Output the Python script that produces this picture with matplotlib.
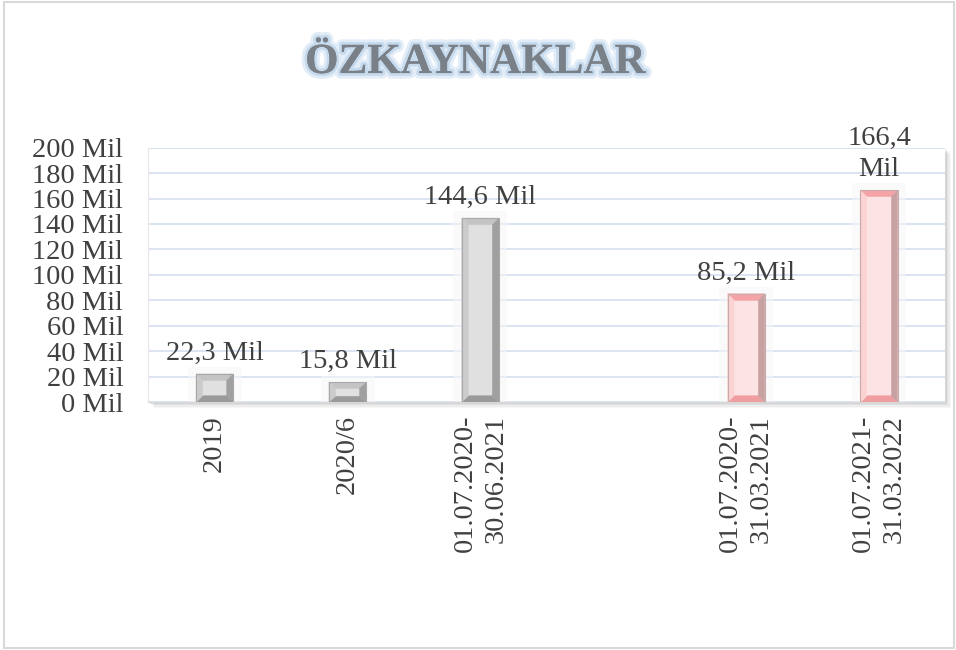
import matplotlib
matplotlib.use("Agg")
import matplotlib.pyplot as plt
import matplotlib.patheffects as pe
from matplotlib.patches import Polygon, Rectangle
import numpy as np

plt.rcParams['font.family'] = ['Liberation Serif', 'DejaVu Serif']

categories = ["2019", "2020/6", "01.07.2020-\n30.06.2021", "",
              "01.07.2020-\n31.03.2021", "01.07.2021-\n31.03.2022"]
values = [22.3, 15.8, 144.6, None, 85.2, 166.4]
value_labels = ["22,3 Mil", "15,8 Mil", "144,6 Mil", "", "85,2 Mil", "166,4\nMil"]
series_kind = ["gray", "gray", "gray", None, "pink", "pink"]
yticks = list(range(0, 201, 20))
ytick_labels = [f"{v} Mil" for v in yticks]
title = "ÖZKAYNAKLAR"

palettes = {
    "gray": dict(face="#e0e0e0", left="#cbcbcb", right="#a0a0a0", top="#c4c4c4", bottom="#9a9a9a", edge="#a8a8a8"),
    "pink": dict(face="#fde4e4", left="#fbd3d3", right="#c8a2a2", top="#f4a3a6", bottom="#f09ea0", edge="#c8aaaa"),
}

FS = 20.5

fig = plt.figure(figsize=(9.56, 6.5), dpi=100)
fig.patches.append(Rectangle((0.004, 0.003), 0.994, 0.994, transform=fig.transFigure,
                             fill=False, edgecolor="#d9d9d9", linewidth=1.5))

pos = [0.155, 0.381, 0.834, 0.392]
ax = fig.add_axes(pos)
ax.set_zorder(2)

# plot area shadow (right and bottom), drawn behind the axes
for i, a in enumerate([0.05, 0.05, 0.04, 0.03]):
    off = (i + 1) * 1.5 / 956
    offy = (i + 1) * 1.5 / 650
    fig.patches.append(Rectangle((pos[0] + off, pos[1] - offy), pos[2], pos[3],
                                 transform=fig.transFigure, facecolor=(0, 0, 0, a),
                                 edgecolor="none", zorder=1))

x = np.arange(len(categories))
ax.set_xlim(-0.5, len(categories) - 0.5)
ax.set_ylim(0, 200)

for s in ax.spines.values():
    s.set_visible(False)
ax.spines['bottom'].set_visible(True)
ax.spines['bottom'].set_color("#d9d9d9")
ax.spines['left'].set_visible(True)
ax.spines['left'].set_color("#e6e6e6")

ax.set_yticks(yticks)
ax.set_yticklabels(ytick_labels, fontsize=FS, color="#404040")
ax.yaxis.grid(True, color="#d6def0", linewidth=1.2)
ax.set_axisbelow(True)
ax.tick_params(axis='y', length=0, pad=18)
ax.tick_params(axis='x', length=0, pad=9)
ax.set_xticks(x)
ax.set_xticklabels(categories, rotation=90, fontsize=FS, color="#404040",
                   va="top", ha="center", multialignment="right", linespacing=1.3)

bar_w = 0.28
plot_vals = [v if v is not None else 0 for v in values]
bars = ax.bar(x, plot_vals, width=bar_w, color="none", edgecolor="none", zorder=2)

ppx = pos[2] * fig.get_figwidth() * fig.dpi / len(categories)
ppy = pos[3] * fig.get_figheight() * fig.dpi / 200.0
bev_x = 7 / ppx
bev_y = 7 / ppy

for b, v, kind, lab in zip(bars, values, series_kind, value_labels):
    if v is None:
        continue
    p = palettes[kind]
    x0 = b.get_x(); x1 = x0 + b.get_width()
    y0 = b.get_y(); y1 = y0 + b.get_height()
    bx = bev_x; by = min(bev_y, (y1 - y0) / 3)
    ix0, ix1, iy0, iy1 = x0 + bx, x1 - bx, y0 + by, y1 - by
    ax.add_patch(Rectangle((x0 - bx * 1.2, y0), (x1 - x0) + 2.4 * bx, (y1 - y0) + by,
                           facecolor="#f7f7f7", edgecolor="none", alpha=0.5, zorder=1.5))
    polys = [
        ([(x0, y1), (x1, y1), (ix1, iy1), (ix0, iy1)], p["top"]),
        ([(x0, y0), (x1, y0), (ix1, iy0), (ix0, iy0)], p["bottom"]),
        ([(x0, y0), (ix0, iy0), (ix0, iy1), (x0, y1)], p["left"]),
        ([(x1, y0), (ix1, iy0), (ix1, iy1), (x1, y1)], p["right"]),
        ([(ix0, iy0), (ix1, iy0), (ix1, iy1), (ix0, iy1)], p["face"]),
    ]
    for pts, c in polys:
        ax.add_patch(Polygon(pts, closed=True, facecolor=c, edgecolor=c, linewidth=0.3, zorder=3))
    ax.add_patch(Rectangle((x0, y0), x1 - x0, y1 - y0, fill=False, edgecolor=p["edge"],
                           linewidth=0.8, zorder=3.5))
    ax.annotate(lab, (b.get_x() + b.get_width() / 2, y1), xytext=(0, 6),
                textcoords="offset points", ha="center", va="bottom",
                fontsize=FS, color="#404040", linespacing=1.3, zorder=4,
                annotation_clip=False)

fig.text(0.497, 0.903, title, ha="center", va="center", fontsize=31, fontweight="bold",
         color="#7a8087",
         path_effects=[pe.withStroke(linewidth=8, foreground="#e3edf7"),
                       pe.withStroke(linewidth=4, foreground="#c6daee"),
                       pe.Normal()])

fig.savefig("out.png", dpi=100, facecolor="white")
